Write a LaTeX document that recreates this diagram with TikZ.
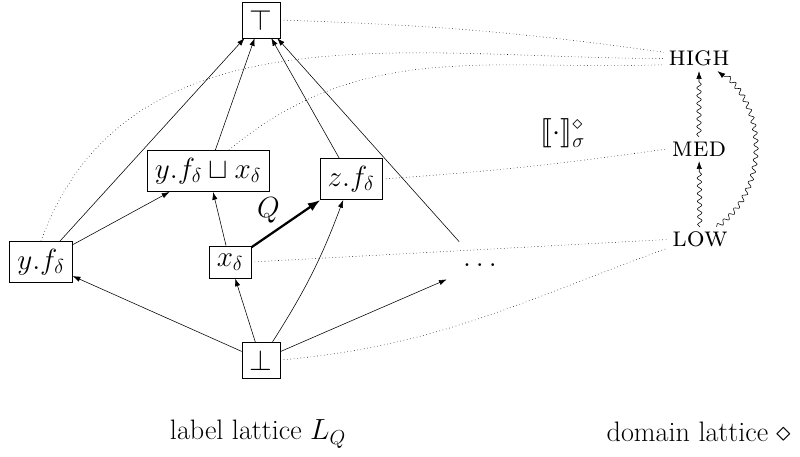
\documentclass[tikz,border=0pt]{standalone}
\usepackage{amssymb}
\usepackage{stmaryrd}
\usepackage{tikz}
\usetikzlibrary{arrows.meta,decorations.pathmorphing}

\begin{document}
\begin{tikzpicture}[x=0.025cm,y=-0.025cm,>={Latex[length=5.5pt,width=3.8pt]},
	every node/.style={font=\fontsize{20}{24}\selectfont},
	lab/.style={draw,inner sep=5.5pt},
	corr/.style={dotted},
	wavy/.style={->,decorate,decoration={snake,amplitude=1.6pt,segment length=5.5pt,post length=1.8mm}}]
	\useasboundingbox (0,0) rectangle (800,457);

	% label lattice
	\node[lab](top) at (261,20){$\top$};
	\node[lab](join) at (208,171){$y.f_\delta\sqcup x_\delta$};
	\node[lab](zf) at (351,179){$z.f_\delta$};
	\node[lab](yf) at (41,262){$y.f_\delta$};
	\node[lab](x) at (230,262){$x_\delta$};
	\node[lab](bot) at (261,360){$\bot$};
	\node[minimum width=1.65cm,minimum height=1.15cm](more) at (480,265){$\dots$};

	\draw[->]  (yf)--(top);
	\draw[->]  (join)--(top);
	\draw[->]  (zf)--(top);
	\draw[->]  (more)--(top);
	\draw[->]  (yf)--(join);
	\draw[->]  (x)--(join);
	\draw[-{Latex[length=9pt,width=6.5pt]},line width=1.6pt]  (x)--node[above left,pos=0.45,inner sep=1pt]{$Q$}(zf);
	\draw[->]  (bot)--(yf);
	\draw[->]  (bot)--(x);
	\draw[->]  (bot) to[bend right=6] (zf);
	\draw[->]  (bot)--(more);

	% domain lattice
	\node(high) at (699,58.5){\textsc{high}};
	\node(med) at (699,149){\textsc{med}};
	\node(low) at (700,239.5){\textsc{low}};

	\draw[wavy]  (med)--(high);
	\draw[wavy]  (low)--(med);
	\draw[wavy]  ([xshift=-4mm]low.north east) to[bend right=55] ([xshift=-4.25mm]high.south east);

	% correspondence
	\draw[corr]  (top.east) to[out=-2,in=172] (high.170);
	\draw[corr]  (yf.north) to[out=70,in=180] (high.west);
	\draw[corr]  (join.45) to[out=40,in=182] (high.190);
	\draw[corr]  (zf.east) to[out=4,in=188] (med.west);
	\draw[corr]  (x.east)--(low.west);
	\draw[corr]  (bot.east) to[out=5,in=200] (low.195);

	\node(sem) at (563,133){$\llbracket\cdot\rrbracket^{\diamond}_{\sigma}$};

	\node(lbl) at (258,434){label lattice $L_Q$};
	\node(dlbl) at (699,432){domain lattice $\diamond$};
\end{tikzpicture}
\end{document}
